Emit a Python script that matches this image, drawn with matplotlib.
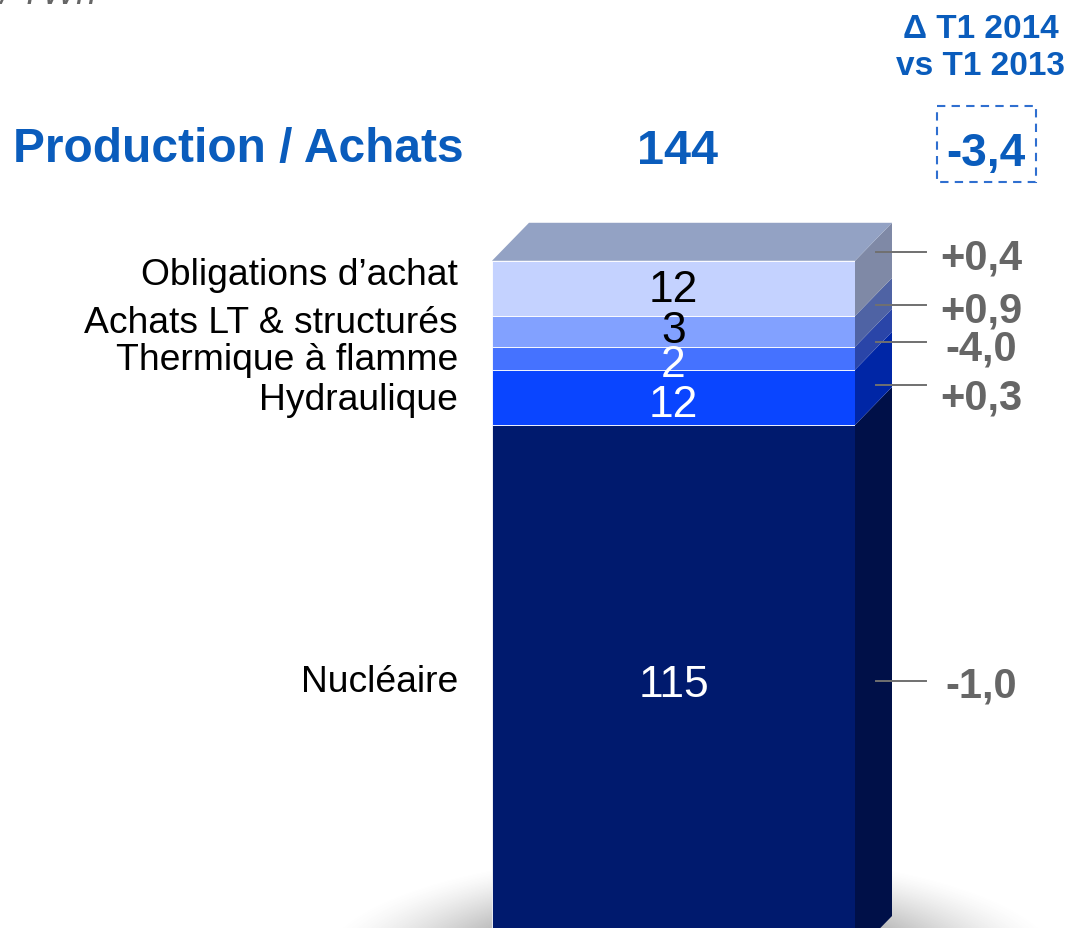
import matplotlib.pyplot as plt
import numpy as np
from matplotlib.patches import Rectangle

plt.rcParams['font.family'] = ['Liberation Sans', 'DejaVu Sans']

# stacked from the bottom up
segments = ['Nucléaire', 'Hydraulique', 'Thermique à flamme',
            'Achats LT & structurés', "Obligations d’achat"]
values = [115, 12, 2, 3, 12]            # labels in TWh
heights = [115, 12, 5, 6.7, 12]         # drawn heights
deltas = ['-1,0', '+0,3', '-4,0', '+0,9', '+0,4']
total = 144
total_delta = '-3,4'

front_colors = ['#001a6e', '#0a45ff', '#4572ff', '#82a1ff', '#c4d2ff']
side_colors = ['#001048', '#0026a6', '#2a45a8', '#4f63a4', '#7f89a6']
top_color = '#93a2c4'
label_colors = ['white', 'white', 'white', 'black', 'black']
blue = '#0a5cbc'
grey = '#666666'

W, H = 1082, 929
PX = 4.6        # pixels per TWh
BASE = 955      # pixel row of the bar's bottom
fig = plt.figure(figsize=(W / 100, H / 100), dpi=100)

# background layer (pixel coords): soft floor shadow
bg = fig.add_axes([0, 0, 1, 1])
bg.set_xlim(0, W)
bg.set_ylim(H, 0)
bg.axis('off')
xx, yy = np.meshgrid(np.arange(300, W), np.arange(800, H))
r = np.sqrt(((xx - 690) / 345.0) ** 2 + ((yy - 965) / 105.0) ** 2)
alpha = np.clip((1.08 - r) / 0.55, 0, 1) ** 1.4 * 0.66
img = np.zeros(xx.shape + (4,))
img[..., :3] = 0.42
img[..., 3] = alpha
bg.imshow(img, extent=(300, W, H, 800), aspect='auto', interpolation='bilinear')

# bar layer (y in TWh)
ax = fig.add_axes([0, 0, 1, 1])
ax.set_xlim(0, W)
ax.set_ylim((BASE - H) / PX, BASE / PX)
ax.axis('off')

xc, bw = 673.5, 363
dx, dy = 37, 38 / PX
x0, x1 = xc - bw / 2, xc + bw / 2
bottoms = np.concatenate([[0], np.cumsum(heights)[:-1]])
ax.bar(xc, heights, bottom=bottoms, width=bw, color=front_colors,
       edgecolor='#ffffff', linewidth=0.6, zorder=2)
for b, h, c in zip(bottoms, heights, side_colors):
    ax.fill([x1, x1 + dx, x1 + dx, x1], [b, b + dy, b + h + dy, b + h],
            color=c, lw=0, zorder=2)
top = bottoms[-1] + heights[-1]
ax.fill([x0, x0 + dx, x1 + dx, x1], [top, top + dy, top + dy, top],
        color=top_color, lw=0, zorder=2)

# baseline drop below each segment's middle, in pixels
drop = [6.5, 18.6, 17.7, 10.6, 12.6]
for b, h, v, c, n in zip(bottoms, heights, values, label_colors, drop):
    ax.text(xc, b + h / 2 - n / PX, str(v), ha='center', va='baseline',
            fontsize=32, color=c, zorder=3)

# foreground layer (pixel coords): titles, labels, deltas
fg = fig.add_axes([0, 0, 1, 1])
fg.set_xlim(0, W)
fg.set_ylim(H, 0)
fg.axis('off')

fg.text(0, 4, '/ TWh', fontsize=26, style='italic', color=grey, va='baseline')
fg.text(13, 162, 'Production / Achats', fontsize=34.5, fontweight='bold',
        color=blue, va='baseline')
fg.text(678, 164, str(total), fontsize=35, fontweight='bold', color=blue,
        ha='center', va='baseline')
fg.text(986, 166, total_delta, fontsize=33, fontweight='bold', color=blue,
        ha='center', va='baseline')
fg.add_patch(Rectangle((937, 107), 99, 76, fill=False, ec='#2f6fd0',
                       lw=1.5, ls=(0, (4, 3))))
fg.text(981, 38, '\u0394 T1 2014', fontsize=24, fontweight='bold', color=blue,
        ha='center', va='baseline')
fg.text(981, 75, 'vs T1 2013', fontsize=24, fontweight='bold', color=blue,
        ha='center', va='baseline')

name_y = [692, 410, 370, 333, 285]
for name, y in zip(segments, name_y):
    fg.text(458, y, name, fontsize=26.8, ha='right', va='baseline', color='black')

line_y = [682, 386, 343, 306, 253]
text_y = [697, 409, 360, 322, 269]
for d, ly, ty in zip(deltas, line_y, text_y):
    fg.plot([876, 926], [ly, ly], color='#707070', lw=1.4)
    fg.text(981, ty, d, fontsize=30, fontweight='bold', color=grey,
            ha='center', va='baseline')

fig.savefig('out.png', dpi=100)
